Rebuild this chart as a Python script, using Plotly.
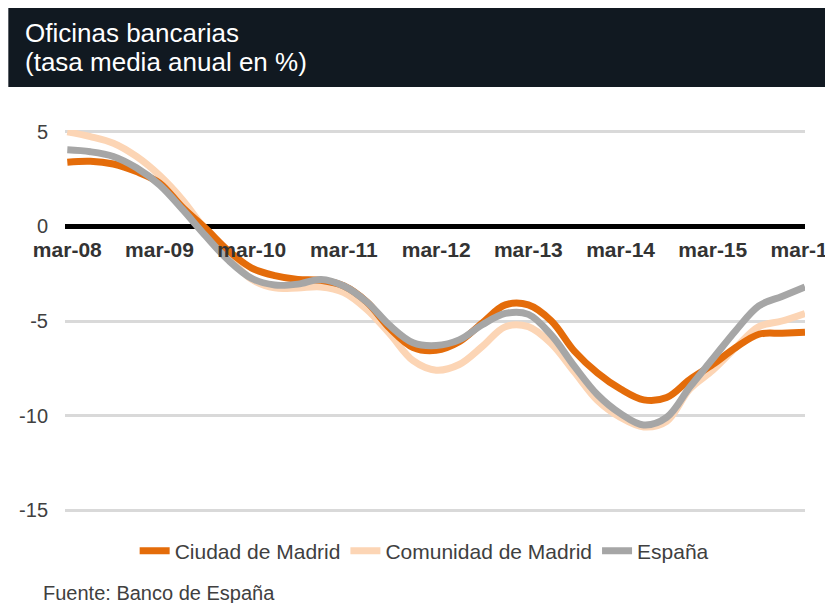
from plotly import graph_objs as go

# quarterly series, mar-08 .. mar-16
quarters = list(range(33))
tick_pos = [0, 4, 8, 12, 16, 20, 24, 28, 32]
tick_labels = ["mar-08", "mar-09", "mar-10", "mar-11", "mar-12",
               "mar-13", "mar-14", "mar-15", "mar-16"]
y_ticks = [-15, -10, -5, 0, 5]
y_labels = ["-15", "-10", "-5", "0", "5"]

ciudad = [3.4, 3.45, 3.3, 2.9, 2.3, 1.0, -0.1, -1.3, -2.2, -2.6, -2.8, -2.85,
          -3.15, -4.0, -5.4, -6.4, -6.55, -6.1, -5.1, -4.15, -4.15, -5.0, -6.6,
          -7.75, -8.6, -9.17, -9.05, -8.1, -7.3, -6.4, -5.7, -5.65, -5.6]
comunidad = [5.0, 4.75, 4.4, 3.7, 2.7, 1.4, -0.2, -1.6, -2.8, -3.25, -3.25, -3.2,
             -3.5, -4.4, -5.7, -7.1, -7.6, -7.3, -6.35, -5.3, -5.3, -6.2, -7.7,
             -9.2, -10.1, -10.6, -10.3, -8.6, -7.6, -6.4, -5.3, -5.0, -4.6]
espana = [4.05, 3.95, 3.7, 3.1, 2.2, 0.9, -0.5, -1.8, -2.75, -3.1, -3.05, -2.8,
          -3.15, -4.0, -5.25, -6.15, -6.3, -6.0, -5.2, -4.6, -4.65, -5.75, -7.4,
          -8.9, -9.9, -10.5, -10.1, -8.5, -7.0, -5.5, -4.2, -3.7, -3.2]

FONT = "Liberation Sans, Arial, sans-serif"
TXT = "#404040"

fig = go.Figure()
fig.add_trace(go.Scatter(x=quarters, y=comunidad, name="Comunidad de Madrid",
                         mode="lines", line=dict(color="#FCD5B5", width=7, shape="spline"),
                         legendrank=2))
fig.add_trace(go.Scatter(x=quarters, y=ciudad, name="Ciudad de Madrid",
                         mode="lines", line=dict(color="#E46C0A", width=7, shape="spline"),
                         legendrank=1))
fig.add_trace(go.Scatter(x=quarters, y=espana, name="España",
                         mode="lines", line=dict(color="#A6A6A6", width=7, shape="spline"),
                         legendrank=3))

# the page adds an 8px body margin; positions below are page pixels
OFF = 8
L, R, T, B = 64.7, 805.0, 130.0, 512.0
pw, ph = R - L, B - T


def px(x):
    return (x - L) / pw


def py(y):
    return (B - y) / ph


fig.add_shape(type="rect", xref="paper", yref="paper",
              x0=px(8), x1=px(826), y0=py(87), y1=py(8),
              fillcolor="#111921", line_width=0, layer="below")
fig.add_annotation(xref="paper", yref="paper", x=px(23), y=py(33),
                   xanchor="left", yanchor="middle", showarrow=False,
                   text="Oficinas bancarias",
                   font=dict(family=FONT, size=26, color="white"))
fig.add_annotation(xref="paper", yref="paper", x=px(23), y=py(62),
                   xanchor="left", yanchor="middle", showarrow=False,
                   text="(tasa media anual en %)",
                   font=dict(family=FONT, size=26, color="white"))
fig.add_annotation(xref="paper", yref="paper", x=px(41), y=py(593),
                   xanchor="left", yanchor="middle", showarrow=False,
                   text="Fuente: Banco de España",
                   font=dict(family=FONT, size=20, color=TXT))

fig.layout.update(
    width=833,
    height=603,
    margin=dict(l=L - OFF, r=833 - (R - OFF), t=T - OFF, b=603 - (B - OFF), pad=0),
    plot_bgcolor="white",
    paper_bgcolor="white",
    font=dict(family=FONT, size=20, color=TXT),
    showlegend=True,
    legend=dict(orientation="h", x=px(424), xanchor="center", y=py(551), yanchor="middle",
                font=dict(size=21, color=TXT), traceorder="normal"),
    xaxis=dict(range=[-0.1, 32], tickvals=tick_pos, ticktext=tick_labels,
               showgrid=False, zeroline=False, showline=False,
               anchor="free", position=py(227), ticks="", ticklabelstandoff=8,
               tickfont=dict(family=FONT, size=21, color="#333333", weight="bold"),
               automargin=False, fixedrange=True),
    yaxis=dict(range=[-15.1, 5.1], tickvals=y_ticks, ticktext=y_labels,
               showgrid=True, gridcolor="#D9D9D9", gridwidth=2.5,
               zeroline=True, zerolinecolor="black", zerolinewidth=5,
               showline=False, ticks="", ticklabelstandoff=16,
               tickfont=dict(family=FONT, size=20, color=TXT),
               automargin=False, fixedrange=True),
)

fig.write_html("out.html")
